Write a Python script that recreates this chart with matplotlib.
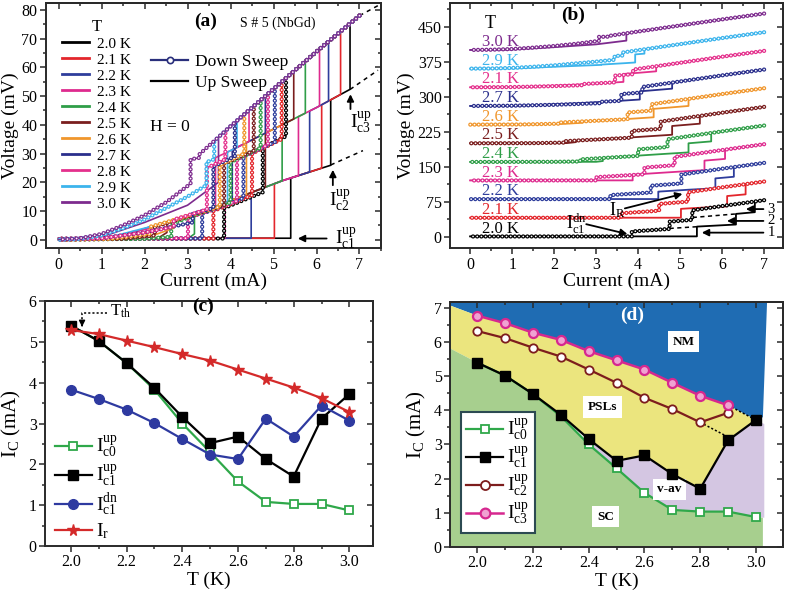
import numpy as np
import matplotlib
matplotlib.use("Agg")
import matplotlib.pyplot as plt
from matplotlib.lines import Line2D
from matplotlib.ticker import MultipleLocator, FormatStrFormatter

plt.rcParams['font.family'] = ['Liberation Serif', 'DejaVu Serif']
plt.rcParams['mathtext.fontset'] = 'custom'
plt.rcParams['mathtext.rm'] = 'Liberation Serif'
plt.rcParams['mathtext.it'] = 'Liberation Serif:italic'
plt.rcParams['mathtext.bf'] = 'Liberation Serif:bold'
plt.rcParams['lines.scale_dashes'] = False

# temperatures and colours
temps = [2.0, 2.1, 2.2, 2.3, 2.4, 2.5, 2.6, 2.7, 2.8, 2.9, 3.0]
t_labels = ['2.0 K', '2.1 K', '2.2 K', '2.3 K', '2.4 K', '2.5 K',
            '2.6 K', '2.7 K', '2.8 K', '2.9 K', '3.0 K']
b_labels = ['2.0 K', '2.1 K', '2.2 K', '2.3 K', '2.4 K', '2.5 K',
            '2.6 K', '2.7 K', '2.1 K', '2.9 K', '3.0 K']
colors = ['#000000', '#e3262c', '#2e3d9c', '#de2a8e', '#2f9e48', '#7a1e1e',
          '#f0962c', '#2a2f8c', '#e4308c', '#3cb4ec', '#7d2b8e']

# critical currents (mA), panels c and d
ic0_up = [5.40, 5.02, 4.48, 3.83, 3.00, 2.30, 1.58, 1.08, 1.03, 1.03, 0.87]
ic1_up = [5.40, 5.02, 4.48, 3.87, 3.16, 2.52, 2.68, 2.13, 1.70, 3.12, 3.72]
ic1_dn = [3.83, 3.60, 3.34, 3.01, 2.62, 2.24, 2.13, 3.12, 2.68, 3.44, 3.07]
i_r = [5.29, 5.19, 5.03, 4.87, 4.70, 4.54, 4.32, 4.10, 3.88, 3.62, 3.28]
t_c23 = [2.0, 2.1, 2.2, 2.3, 2.4, 2.5, 2.6, 2.7, 2.8, 2.9]
ic2_up = [6.33, 6.12, 5.84, 5.58, 5.20, 4.81, 4.37, 4.04, 3.65, 3.93]
ic3_up = [6.78, 6.56, 6.28, 6.07, 5.74, 5.47, 5.20, 4.81, 4.43, 4.15]

# resistive branches
br1_i = [1.0, 2.0, 2.5, 3.0, 3.7, 4.5, 5.2, 6.35]
br1_v = [1.0, 3.5, 5.5, 8.0, 11.8, 16.5, 20.5, 26.0]
br2_i = [3.0, 4.0, 5.0, 6.0, 6.8]
br2_v = [24.0, 31.0, 38.5, 46.0, 52.5]
brn_i = [2.0, 3.0, 4.0, 5.0, 6.0, 7.0]
brn_v = [12.0, 26.0, 39.5, 52.5, 65.5, 78.0]

# up sweep below the first jump
up_pre_i = [[0, 5.40], [0, 5.02], [0, 4.48], [0, 3.87], [0, 3.0, 3.16],
            [0, 2.3, 2.52], [0, 1.58, 2.2, 2.68], [0, 1.08, 1.6, 2.13],
            [0, 1.03, 1.4, 1.70], [0, 1.03, 2.0, 3.12], [0, 0.87, 2.0, 3.0, 3.72]]
up_pre_v = [[0.5, 0.5], [0.5, 0.5], [0.5, 0.5], [0.5, 0.5], [0, 0.3, 2.0],
            [0, 0.4, 2.5], [0, 0.3, 1.5, 4.0], [0, 0.3, 1.8, 4.5],
            [0, 0.3, 1.0, 2.0], [0, 0.3, 4.0, 8.0], [0, 0.3, 6.0, 12.0, 20.0]]

# down sweep below the retrapping current
dn_low_i = [[5.29, 4.75, 4.75, 3.85, 3.85, 0],
            [5.19, 4.50, 4.50, 3.60, 3.60, 0],
            [5.03, 4.30, 4.30, 3.34, 3.34, 0],
            [4.87, 4.15, 4.15, 3.01, 3.01, 0],
            [4.70, 4.00, 4.00, 2.62, 2.62, 2.0, 0],
            [4.54, 3.85, 3.85, 2.24, 2.24, 1.5, 0],
            [4.32, 3.75, 3.75, 2.13, 2.13, 1.2, 0],
            [4.10, 3.60, 3.60, 3.12, 3.12, 2.0, 1.0, 0],
            [3.88, 3.45, 3.45, 2.68, 2.68, 2.0, 1.0, 0],
            [3.62, 3.44, 3.44, 3.0, 2.5, 2.0, 1.5, 1.0, 0.5, 0],
            [3.28, 3.07, 3.07, 2.5, 2.0, 1.5, 1.0, 0.5, 0]]
dn_low_v = [[36, 32, 16.5, 11, 0.4, 0.3],
            [35, 30, 15.5, 10, 0.4, 0.3],
            [34, 29, 14.5, 9, 0.4, 0.3],
            [33, 28, 13.5, 7.5, 0.5, 0.3],
            [32, 27, 13, 5.5, 1.0, 0.3, 0],
            [31, 26.5, 12, 4.5, 1.5, 0.3, 0],
            [30, 26, 11.5, 4.5, 2.0, 0.3, 0],
            [29, 25.5, 11, 9, 6, 2.5, 0.5, 0],
            [28, 25, 10.5, 7, 4.5, 2.5, 0.5, 0],
            [28, 27, 19, 15, 11, 7, 4, 1.5, 0.3, 0],
            [28.5, 28, 19.5, 13, 8.5, 5, 2, 0.5, 0]]

# guide lines
a_ext1_i, a_ext1_v = [6.33, 7.08], [26.0, 31.0]
a_ext2_i, a_ext2_v = [6.78, 7.43], [52.3, 59.0]
a_ext3_i, a_ext3_v = [7.0, 7.43], [78.0, 81.5]
b_dash1_i, b_dash1_v = [4.75, 5.42], [17.5, 21.3]
b_dash2_i, b_dash2_v = [5.30, 6.33], [41.0, 48.6]
b_shift = 40
d_dot1_t, d_dot1_i = [2.9, 3.0], [4.15, 3.72]
d_dot2_t, d_dot2_i = [2.8, 2.9], [3.65, 3.22]

# region edges in panel d
d_left_sc, d_left_nm = 5.82, 7.08
d_edge = 3.025


def on_branch(bi, bv, i):
    return float(np.interp(i, bi, bv))


def follow(bi, bv, a, b):
    xs = [a] + [p for p in bi if a < p < b] + [b]
    ys = [on_branch(bi, bv, a)] + [v for p, v in zip(bi, bv) if a < p < b] + [on_branch(bi, bv, b)]
    return xs, ys


def up_sweep(k):
    xs, ys = list(up_pre_i[k]), list(up_pre_v[k])
    if k < len(ic2_up):
        segs = [(br1_i, br1_v, ic1_up[k], ic2_up[k]),
                (br2_i, br2_v, ic2_up[k], ic3_up[k]),
                (brn_i, brn_v, ic3_up[k], 7.0)]
    else:
        segs = [(brn_i, brn_v, ic1_up[k], 7.0)]
    for bi, bv, a, b in segs:
        fx, fy = follow(bi, bv, a, b)
        xs += fx
        ys += fy
    return np.array(xs), np.array(ys)


def down_sweep(k):
    xs = [p for p in reversed(brn_i) if p > i_r[k]] + [i_r[k]]
    ys = [v for p, v in zip(reversed(brn_i), reversed(brn_v)) if p > i_r[k]]
    ys += [on_branch(brn_i, brn_v, i_r[k])]
    return np.array(xs + dn_low_i[k]), np.array(ys + dn_low_v[k])


def ring_line(ax, x, y, c, z=3, gap=3.3):
    ax.plot(x, y, color=c, lw=0.9, zorder=z)
    ax.plot(x, y, color=c, lw=3.1, ls=(0, (0.01, gap)), dash_capstyle='round', zorder=z)
    ax.plot(x, y, color='white', lw=1.3, ls=(0, (0.01, gap)), dash_capstyle='round', zorder=z)


def frame(ax, xmaj, xmin, ymaj, ymin):
    for s in ax.spines.values():
        s.set_linewidth(1.4)
        s.set_color('#2a2a2a')
    ax.xaxis.set_major_locator(MultipleLocator(xmaj))
    ax.xaxis.set_minor_locator(MultipleLocator(xmin))
    ax.yaxis.set_major_locator(MultipleLocator(ymaj))
    ax.yaxis.set_minor_locator(MultipleLocator(ymin))
    ax.tick_params(which='both', direction='out', top=False, right=False,
                   labelsize=11.5, width=1.1, color='#2a2a2a', pad=2)
    ax.tick_params(which='major', length=4)
    ax.tick_params(which='minor', length=2)
    sx = ax.secondary_xaxis('top')
    sx.xaxis.set_major_locator(MultipleLocator(xmaj))
    sx.xaxis.set_minor_locator(MultipleLocator(xmin))
    sx.tick_params(which='both', direction='in', labeltop=False, width=1.1, color='#2a2a2a')
    sx.tick_params(which='major', length=4)
    sx.tick_params(which='minor', length=2)
    sy = ax.secondary_yaxis('right')
    sy.yaxis.set_major_locator(MultipleLocator(ymaj))
    sy.yaxis.set_minor_locator(MultipleLocator(ymin))
    sy.tick_params(which='both', direction='in', labelright=False, width=1.1, color='#2a2a2a')
    sy.tick_params(which='major', length=4)
    sy.tick_params(which='minor', length=2)
    for sec in (sx, sy):
        for s in sec.spines.values():
            s.set_linewidth(1.4)
            s.set_color('#2a2a2a')


fig = plt.figure(figsize=(7.87, 5.90), dpi=100)
ax_a = fig.add_axes([0.0581, 0.5792, 0.4260, 0.4152])
ax_b = fig.add_axes([0.5718, 0.5792, 0.4231, 0.4152])
ax_c = fig.add_axes([0.0572, 0.0746, 0.4168, 0.4152])
ax_d = fig.add_axes([0.5718, 0.0734, 0.4227, 0.4152])

# ---- panel (a)
for k in range(len(temps)):
    ux, uy = up_sweep(k)
    ax_a.plot(ux, uy, color=colors[k], lw=1.2, zorder=2)
for k in range(len(temps)):
    dx, dy = down_sweep(k)
    ring_line(ax_a, dx, dy, colors[k], z=3)
for ex, ey in [(a_ext1_i, a_ext1_v), (a_ext2_i, a_ext2_v), (a_ext3_i, a_ext3_v)]:
    ax_a.plot(ex, ey, color='black', lw=1.1, ls=(0, (3, 3)), zorder=2)
ax_a.set_xlim(-0.3, 7.5)
ax_a.set_ylim(-3, 82.3)
frame(ax_a, 1, 0.5, 10, 5)
ax_a.set_xlabel('Current (mA)', fontsize=14, labelpad=0)
ax_a.set_ylabel('Voltage (mV)', fontsize=14, labelpad=2)

t_handles = [Line2D([], [], color=c, lw=2) for c in colors]
leg1 = ax_a.legend(t_handles, t_labels, title='T', loc='upper left',
                   bbox_to_anchor=(0.048, 0.937), frameon=False, fontsize=11,
                   title_fontsize=12, handlelength=1.8, handletextpad=0.5,
                   labelspacing=0.15, borderpad=0, borderaxespad=0)
ax_a.add_artist(leg1)
sweep_handles = [Line2D([], [], color='#2a2f7c', lw=1.6, marker='o', ms=4.5,
                        mfc='white', mew=1.2),
                 Line2D([], [], color='black', lw=1.6)]
ax_a.legend(sweep_handles, ['Down Sweep', 'Up Sweep'], loc='upper left',
            bbox_to_anchor=(0.315, 0.795), frameon=False, fontsize=12.5,
            handlelength=2.1, handletextpad=0.4, labelspacing=0.3,
            borderpad=0, borderaxespad=0)
ax_a.text(3.42, 76, '(a)', fontsize=14, fontweight='bold', ha='center', va='center')
ax_a.text(5.1, 75.5, 'S # 5 (NbGd)', fontsize=10, ha='center', va='center')
ax_a.text(2.6, 39.3, 'H = 0', fontsize=12.5, ha='center', va='center')
arr = dict(arrowstyle='-|>', color='black', lw=1.3, mutation_scale=10)
ax_a.annotate('', xy=(5.5, 0.4), xytext=(6.3, 0.4), arrowprops=arr)
ax_a.text(6.42, 0.2, r'$\mathrm{I}_{\mathrm{c1}}^{\mathrm{up}}$', fontsize=14, va='center')
ax_a.annotate('', xy=(6.38, 25.3), xytext=(6.38, 18.0), arrowprops=arr)
ax_a.text(6.3, 13.5, r'$\mathrm{I}_{\mathrm{c2}}^{\mathrm{up}}$', fontsize=14, va='center')
ax_a.annotate('', xy=(6.79, 51.6), xytext=(6.79, 44.5), arrowprops=arr)
ax_a.text(6.78, 40.5, r'$\mathrm{I}_{\mathrm{c3}}^{\mathrm{up}}$', fontsize=14, va='center')

# ---- panel (b)
for k in range(len(temps)):
    ux, uy = up_sweep(k)
    ax_b.plot(ux, uy + k * b_shift, color=colors[k], lw=1.3, zorder=2)
for k in range(len(temps)):
    dx, dy = down_sweep(k)
    ring_line(ax_b, dx, dy + k * b_shift, colors[k], z=3, gap=3.0)
    ax_b.text(0.28, k * b_shift + 17, b_labels[k], color=colors[k], fontsize=12,
              ha='left', va='center')
for ex, ey in [(b_dash1_i, b_dash1_v), (b_dash2_i, b_dash2_v)]:
    ax_b.plot(ex, ey, color='black', lw=1.1, ls=(0, (3, 2.5)), zorder=4)
ax_b.set_xlim(-0.48, 7.45)
ax_b.set_ylim(-25, 500)
frame(ax_b, 1, 0.5, 75, 37.5)
ax_b.set_xlabel('Current (mA)', fontsize=14, labelpad=0)
ax_b.set_ylabel('Voltage (mV)', fontsize=14, labelpad=2)
ax_b.text(0.48, 457, 'T', fontsize=13, ha='center', va='center')
ax_b.text(2.44, 475, '(b)', fontsize=14, fontweight='bold', ha='center', va='center')
ax_b.annotate('', xy=(5.12, 93), xytext=(3.62, 59), arrowprops=arr)
ax_b.text(3.3, 57, r'$\mathrm{I}_{\mathrm{R}}$', fontsize=13, va='center')
ax_b.annotate('', xy=(3.81, 4), xytext=(2.7, 28), arrowprops=arr)
ax_b.text(2.28, 27, r'$\mathrm{I}_{\mathrm{c1}}^{\mathrm{dn}}$', fontsize=13, va='center')
for num, vy, x_end in [('3', 59, 6.5), ('2', 33.6, 6.05), ('1', 8.5, 5.45)]:
    ax_b.annotate('', xy=(x_end, vy), xytext=(7.05, vy), arrowprops=arr, zorder=5)
    ax_b.text(7.08, vy, num, fontsize=10.5, va='center')

# ---- panel (c)
ax_c.plot(temps, ic0_up, color='#2fa84a', lw=1.6, marker='s', ms=5.5, mfc='white',
          mec='#2fa84a', mew=1.3, zorder=3)
ax_c.plot(temps, ic1_up, color='black', lw=1.6, marker='s', ms=6.5, zorder=4)
ax_c.plot(temps, ic1_dn, color='#2e3aa0', lw=1.6, marker='o', ms=7, zorder=4)
ax_c.plot(temps, i_r, color='#d42a2a', lw=1.6, marker='*', ms=8.5, zorder=4)
ax_c.set_xlim(1.907, 3.085)
ax_c.set_ylim(0, 6)
frame(ax_c, 0.2, 0.1, 1, 0.5)
ax_c.xaxis.set_major_formatter(FormatStrFormatter('%.1f'))
ax_c.set_xlabel('T (K)', fontsize=14, labelpad=1)
ax_c.set_ylabel(r'I$_\mathrm{C}$ (mA)', fontsize=15, labelpad=4)
c_handles = [Line2D([], [], color='#2fa84a', lw=1.6, marker='s', ms=5.5, mfc='white', mew=1.3),
             Line2D([], [], color='black', lw=1.6, marker='s', ms=6.5),
             Line2D([], [], color='#2e3aa0', lw=1.6, marker='o', ms=7),
             Line2D([], [], color='#d42a2a', lw=1.6, marker='*', ms=8.5)]
c_texts = [r'$\mathrm{I}_{\mathrm{c0}}^{\mathrm{up}}$', r'$\mathrm{I}_{\mathrm{c1}}^{\mathrm{up}}$',
           r'$\mathrm{I}_{\mathrm{c1}}^{\mathrm{dn}}$', r'$\mathrm{I}_{\mathrm{r}}$']
ax_c.legend(c_handles, c_texts, loc='lower left', bbox_to_anchor=(0.03, 0.02),
            frameon=False, fontsize=14, handlelength=1.9, handletextpad=0.2,
            labelspacing=0.15, borderpad=0, borderaxespad=0)
ax_c.text(2.475, 5.87, '(c)', fontsize=14, fontweight='bold', ha='center', va='center')
tth_t, tth_i = [2.13, 2.04, 2.04], [5.71, 5.71, 5.45]
ax_c.plot(tth_t, tth_i, color='black', lw=1.1, ls=(0, (1.5, 1.5)))
ax_c.annotate('', xy=(2.04, 5.3), xytext=(2.04, 5.47),
              arrowprops=dict(arrowstyle='-|>', color='black', lw=1.0, mutation_scale=9))
ax_c.text(2.14, 5.76, r'T$_\mathrm{th}$', fontsize=12, va='center')

# ---- panel (d)
c_nm, c_psl, c_sc, c_vav = '#1f6cb3', '#ebe57e', '#a7cf8e', '#d4c6e2'
top = 7.19
nm_x = [1.902, 1.902, 3.04, d_edge, 3.0] + t_c23[::-1] + [1.902]
nm_y = [d_left_nm, top, top, 3.8, 3.72] + ic3_up[::-1] + [d_left_nm]
ax_d.fill(nm_x, nm_y, color=c_nm, lw=0, zorder=0)
psl_x = [1.902] + t_c23 + [3.0] + temps[::-1] + [1.902]
psl_y = [d_left_nm] + ic3_up + [3.72] + ic1_up[::-1] + [d_left_sc]
ax_d.fill(psl_x, psl_y, color=c_psl, lw=0, zorder=0)
vav_x = temps[4:] + [3.03, 3.03] + temps[4:][::-1]
vav_y = ic1_up[4:] + [3.6, 0.85] + ic0_up[4:][::-1]
ax_d.fill(vav_x, vav_y, color=c_vav, lw=0, zorder=0)
sc_x = [1.902] + temps + [d_edge, d_edge, 1.902]
sc_y = [d_left_sc] + ic0_up + [0.85, 0, 0]
ax_d.fill(sc_x, sc_y, color=c_sc, lw=0, zorder=0)

ax_d.plot(d_dot1_t, d_dot1_i, color='black', lw=1.1, ls=(0, (1.5, 1.5)), zorder=2)
ax_d.plot(d_dot2_t, d_dot2_i, color='black', lw=1.1, ls=(0, (1.5, 1.5)), zorder=2)
ax_d.plot(temps, ic0_up, color='#2fa84a', lw=1.6, marker='s', ms=5.5, mfc='white',
          mec='#2fa84a', mew=1.3, zorder=3)
ax_d.plot(temps, ic1_up, color='black', lw=1.6, marker='s', ms=6.5, zorder=4)
ax_d.plot(t_c23, ic2_up, color='#7d1d1d', lw=1.6, marker='o', ms=6, mfc='white',
          mec='#7d1d1d', mew=1.3, zorder=4)
ax_d.plot(t_c23, ic3_up, color='#d6288f', lw=1.8, marker='o', ms=6.5, mfc='#f0a2d2',
          mec='#d6288f', mew=1.6, zorder=4)
ax_d.set_xlim(1.902, 3.096)
ax_d.set_ylim(0, top)
frame(ax_d, 0.2, 0.1, 1, 0.5)
ax_d.xaxis.set_major_formatter(FormatStrFormatter('%.1f'))
ax_d.set_xlabel('T (K)', fontsize=14, labelpad=1)
ax_d.set_ylabel(r'I$_\mathrm{C}$ (mA)', fontsize=15, labelpad=4)
d_handles = [Line2D([], [], color='#2fa84a', lw=1.6, marker='s', ms=6, mfc='white', mew=1.3),
             Line2D([], [], color='black', lw=1.6, marker='s', ms=7),
             Line2D([], [], color='#7d1d1d', lw=1.6, marker='o', ms=6.5, mfc='white', mew=1.3),
             Line2D([], [], color='#d6288f', lw=1.8, marker='o', ms=7, mfc='#f0a2d2', mew=1.6)]
d_texts = [r'$\mathrm{I}_{\mathrm{c0}}^{\mathrm{up}}$', r'$\mathrm{I}_{\mathrm{c1}}^{\mathrm{up}}$',
           r'$\mathrm{I}_{\mathrm{c2}}^{\mathrm{up}}$', r'$\mathrm{I}_{\mathrm{c3}}^{\mathrm{up}}$']
leg_d = ax_d.legend(d_handles, d_texts, loc='lower left', bbox_to_anchor=(0.032, 0.055),
                    frameon=True, fancybox=False, framealpha=1, edgecolor='#2c4a52',
                    fontsize=14, handlelength=1.9, handletextpad=0.2, labelspacing=0.1,
                    borderpad=0.3, borderaxespad=0)
leg_d.get_frame().set_linewidth(1.5)
ax_d.text(2.555, 6.8, '(d)', fontsize=14, fontweight='bold', color='white', ha='center', va='center')
box = dict(boxstyle='square,pad=0.35', fc='white', ec='none')
ax_d.text(2.74, 6.02, 'NM', fontsize=9.5, fontweight='bold', ha='center', va='center', bbox=box)
ax_d.text(2.45, 4.1, 'PSLs', fontsize=9.5, fontweight='bold', ha='center', va='center', bbox=box)
ax_d.text(2.69, 1.68, 'v-av', fontsize=9.5, fontweight='bold', ha='center', va='center', bbox=box)
ax_d.text(2.46, 0.88, 'SC', fontsize=9.5, fontweight='bold', ha='center', va='center', bbox=box)

fig.savefig('out.png', dpi=100)
